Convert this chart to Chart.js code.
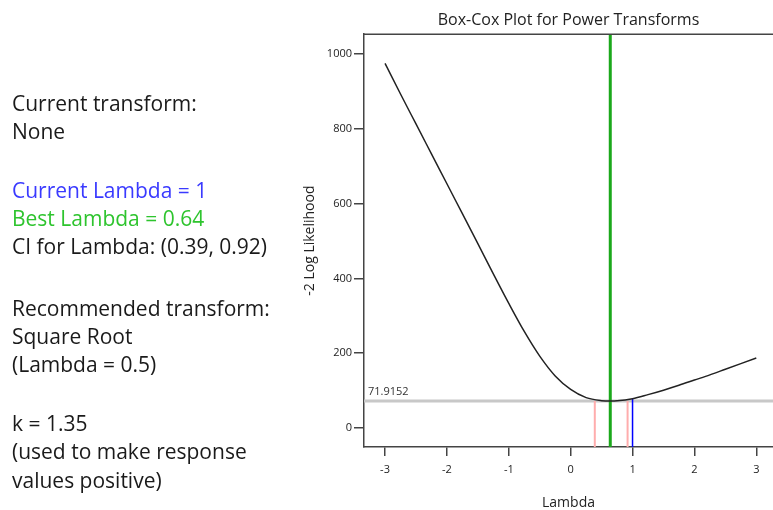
<!DOCTYPE html>
<html>
<head>
<meta charset="utf-8">
<script src="https://cdn.jsdelivr.net/npm/chart.js@4.4.1/dist/chart.umd.min.js"></script>
<style>
  html, body { margin: 0; padding: 0; background: #fff; }
  #wrap { position: relative; width: 773px; height: 510px; overflow: hidden; }
  canvas { position: absolute; left: 0; top: 0; }
  .info { position: absolute; left: 12px; font-family: "Open Sans", sans-serif; font-size: 21px; line-height: 21px; color: #1a1a1a; white-space: nowrap; }
</style>
</head>
<body>
<div id="wrap">
  <canvas id="c" width="773" height="510"></canvas>
</div>
<script>
// ---- data ----
const lambdas = [-3, -2.75, -2.5, -2.25, -2, -1.75, -1.5, -1.25, -1, -0.75, -0.5, -0.25, 0, 0.25, 0.5, 0.64, 0.75, 1, 1.25, 1.5, 1.75, 2, 2.25, 2.5, 2.75, 3];
const logLik  = [975, 893, 813, 733, 653, 573, 493, 412, 333, 258, 192, 139, 103, 81, 73, 71.9152, 72.4, 78, 89, 101, 114, 128, 142, 157, 172, 187];
const bestLambda = 0.64;
const currentLambda = 1;
const ciLow = 0.39;
const ciHigh = 0.92;
const minLL = 71.9152;
const currentLL = 78;
const xTicks = [-3, -2, -1, 0, 1, 2, 3];
const yTicks = [0, 200, 400, 600, 800, 1000];
const xMin = -3.34, xMax = 3.27;
const yMin = -51, yMax = 1053;
const refLabel = "71.9152";
const infoLines = [
  ["Current transform:", "#1a1a1a", 111.7],
  ["None", "#1a1a1a", 140],
  ["Current Lambda = 1", "#3a3aff", 198.3],
  ["Best Lambda = 0.64", "#2ec42e", 226.7],
  ["CI for Lambda: (0.39, 0.92)", "#1a1a1a", 255],
  ["Recommended transform:", "#1a1a1a", 316.7],
  ["Square Root", "#1a1a1a", 345],
  ["(Lambda = 0.5)", "#1a1a1a", 373],
  ["k = 1.35", "#1a1a1a", 431.7],
  ["(used to make response", "#1a1a1a", 460],
  ["values positive)", "#1a1a1a", 488.5]
];

// ---- left text panel ----
const wrap = document.getElementById('wrap');
infoLines.forEach(([t, col, base]) => {
  const d = document.createElement('div');
  d.className = 'info';
  d.textContent = t;
  d.style.color = col;
  d.style.top = (base - 18.65) + 'px';
  wrap.appendChild(d);
});

// ---- chart ----
const FONT = '"Open Sans", sans-serif';
const curve = lambdas.map((l, i) => ({ x: l, y: logLik[i] }));

const framePlugin = {
  id: 'frame',
  afterDraw(chart) {
    const { ctx, chartArea } = chart;
    ctx.save();
    ctx.strokeStyle = '#444';
    ctx.lineWidth = 1.5;
    ctx.beginPath();
    ctx.moveTo(chartArea.left, chartArea.top);
    ctx.lineTo(chartArea.right, chartArea.top);
    ctx.stroke();
    const y = chart.scales.y.getPixelForValue(minLL);
    ctx.font = '11px ' + FONT;
    ctx.fillStyle = '#333';
    ctx.textBaseline = 'alphabetic';
    ctx.textAlign = 'left';
    ctx.fillText(refLabel, chartArea.left + 4, y - 6);
    ctx.restore();
  }
};

new Chart(document.getElementById('c'), {
  type: 'line',
  data: {
    datasets: [
      { data: curve, borderColor: '#222', borderWidth: 1.5, pointRadius: 0, cubicInterpolationMode: 'monotone', order: 0 },
      { data: [{ x: bestLambda, y: yMin }, { x: bestLambda, y: yMax }], borderColor: '#1ba81b', borderWidth: 3, pointRadius: 0, order: 1 },
      { data: [{ x: currentLambda, y: yMin }, { x: currentLambda, y: currentLL }], borderColor: '#0000ff', borderWidth: 1.5, pointRadius: 0, order: 2 },
      { data: [{ x: ciLow, y: yMin }, { x: ciLow, y: minLL }], borderColor: '#ffadad', borderWidth: 2, pointRadius: 0, order: 3 },
      { data: [{ x: ciHigh, y: yMin }, { x: ciHigh, y: minLL }], borderColor: '#ffadad', borderWidth: 2, pointRadius: 0, order: 3 },
      { data: [{ x: xMin, y: minLL }, { x: xMax, y: minLL }], borderColor: '#c8c8c8', borderWidth: 3, pointRadius: 0, order: 5 }
    ]
  },
  options: {
    responsive: false,
    animation: false,
    layout: { padding: { left: 290, right: 0, top: 0, bottom: 0 } },
    plugins: {
      legend: { display: false },
      tooltip: { enabled: false },
      title: {
        display: true,
        text: 'Box-Cox Plot for Power Transforms',
        fullSize: false,
        color: '#222',
        font: { family: FONT, size: 16, weight: 'normal' },
        padding: { top: 11, bottom: 4 }
      }
    },
    scales: {
      x: {
        type: 'linear',
        min: xMin, max: xMax,
        afterBuildTicks: s => { s.ticks = xTicks.map(v => ({ value: v })); },
        afterFit: s => { s.height = 63; },
        grid: { drawOnChartArea: false, drawTicks: true, tickLength: 9, color: '#444', lineWidth: 1.5 },
        border: { display: true, color: '#444', width: 1.5 },
        ticks: { color: '#222', font: { family: FONT, size: 11 }, padding: 7, maxRotation: 0, callback: v => String(v) },
        title: { display: true, text: 'Lambda', color: '#222', font: { family: FONT, size: 14 }, padding: { top: 0, bottom: -1 } }
      },
      y: {
        type: 'linear',
        min: yMin, max: yMax,
        afterBuildTicks: s => { s.ticks = yTicks.map(v => ({ value: v })); },
        afterFit: s => { s.width = 74; },
        grid: { drawOnChartArea: false, drawTicks: true, tickLength: 10, color: '#444', lineWidth: 1.5 },
        border: { display: true, color: '#444', width: 1.5 },
        ticks: { color: '#222', font: { family: FONT, size: 11 }, padding: 2, callback: v => String(v) },
        title: { display: true, text: '-2 Log Likelihood', color: '#222', font: { family: FONT, size: 14 }, padding: { top: 12, bottom: 0 } }
      }
    }
  },
  plugins: [framePlugin]
});
</script>
</body>
</html>
